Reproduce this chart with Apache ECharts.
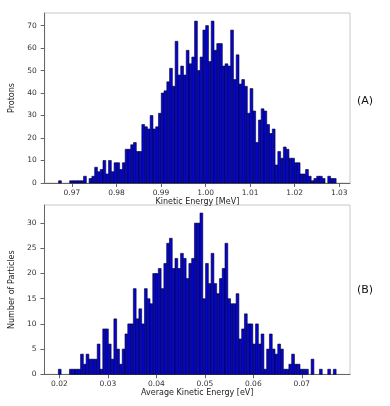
<!DOCTYPE html>
<html>
<head>
<meta charset="utf-8">
<script src="https://cdn.jsdelivr.net/npm/echarts@6/dist/echarts.min.js"></script>
<style>
html,body{margin:0;padding:0;background:#fff;}
#c{width:390px;height:406px;}
</style>
</head>
<body>
<div id="c"></div>
<script>
// ---- Data ----
// Panel A: 100-bin histogram of proton kinetic energy [MeV]
const topRange = [0.9670, 1.0293];
const topCounts = [1,0,0,0,1,1,1,1,1,3, 0,2,3,7,5,6,10,4,10,5,
  9,9,6,9,15,15,17,18,14,14, 26,25,24,30,24,25,31,40,41,45,
  51,43,63,48,52,48,59,53,56,72, 50,56,68,70,54,72,59,62,62,52,
  53,52,68,46,57,44,46,43,31,42, 32,18,28,33,32,26,22,24,8,14,
  11,16,15,11,11,9,9,4,4,6, 3,1,2,3,3,2,0,3,2,2];
const topXTicks = [0.97, 0.98, 0.99, 1.00, 1.01, 1.02, 1.03];
const topYTicks = [0, 10, 20, 30, 40, 50, 60, 70];

// Panel B: 100-bin histogram of average kinetic energy [eV]
const botRange = [0.01978, 0.07708];
const botCounts = [1,0,0,0,1,1,1,1,4,2, 4,3,3,3,6,1,9,9,6,3,
  11,5,2,5,8,10,10,17,11,13, 10,17,15,14,20,20,21,17,22,26,
  27,21,23,21,24,23,19,22,23,30, 30,32,15,22,18,24,18,16,19,21,
  26,15,14,14,16,7,9,12,10,10, 6,10,6,8,1,5,8,5,4,6,
  5,1,1,2,4,2,2,1,1,1, 0,3,0,0,1,0,0,1,0,1];
const botXTicks = [0.02, 0.03, 0.04, 0.05, 0.06, 0.07];
const botYTicks = [0, 5, 10, 15, 20, 25, 30];

const labels = ['(A)', '(B)'];

// ---- Build ----
function bins(range, counts) {
  const w = (range[1] - range[0]) / counts.length;
  return counts.map((c, i) => [range[0] + i * w, range[0] + (i + 1) * w, c]);
}
function pad(range) {
  const s = range[1] - range[0];
  return [range[0] - 0.05 * s, range[1] + 0.05 * s];
}
const tA = pad(topRange), tB = pad(botRange);

const tickFont = {fontFamily: 'DejaVu Sans', fontSize: 7.5, color: '#333'};
const nameFont = {fontFamily: 'DejaVu Sans', fontSize: 8, color: '#222'};

function xAx(idx, ext, ticks, name, gap) {
  return {
    type: 'value', gridIndex: idx, min: ext[0], max: ext[1],
    name: name, nameLocation: 'middle', nameGap: gap, nameTextStyle: nameFont,
    axisLine: {show: true, lineStyle: {color: '#666', width: 1}},
    axisTick: {show: true, length: 4, customValues: ticks, lineStyle: {color: '#666'}},
    axisLabel: Object.assign({customValues: ticks, margin: 6,
      formatter: v => v.toFixed(2)}, tickFont),
    splitLine: {show: false}
  };
}
function yAx(idx, max, ticks, name, gap) {
  return {
    type: 'value', gridIndex: idx, min: 0, max: max,
    name: name, nameLocation: 'middle', nameGap: gap, nameTextStyle: nameFont,
    axisLine: {show: true, lineStyle: {color: '#666', width: 1}},
    axisTick: {show: true, length: 4, customValues: ticks, lineStyle: {color: '#666'}},
    axisLabel: Object.assign({customValues: ticks, margin: 8}, tickFont),
    splitLine: {show: false}
  };
}
function renderBar(params, api) {
  const y = api.value(2);
  if (!y) return null;
  const p0 = api.coord([api.value(0), y]);
  const p1 = api.coord([api.value(1), 0]);
  return {
    type: 'rect',
    shape: {x: p0[0], y: p0[1], width: p1[0] - p0[0], height: p1[1] - p0[1]},
    style: {fill: '#0505d0', stroke: '#00002a', lineWidth: 0.6}
  };
}

const option = {
  animation: false,
  backgroundColor: '#fff',
  grid: [
    {left: 44.7, top: 13, right: 40, height: 170, show: true, borderColor: '#c8c8c8', borderWidth: 1},
    {left: 44.3, top: 205, right: 40, height: 169.3, show: true, borderColor: '#c8c8c8', borderWidth: 1}
  ],
  xAxis: [
    xAx(0, tA, topXTicks, 'Kinetic Energy [MeV]', 10),
    xAx(1, tB, botXTicks, 'Average Kinetic Energy [eV]', 14)
  ],
  yAxis: [
    yAx(0, Math.max(...topCounts) * 1.05, topYTicks, 'Protons', 17),
    yAx(1, Math.max(...botCounts) * 1.05, botYTicks, 'Number of Particles', 19)
  ],
  series: [
    {type: 'custom', xAxisIndex: 0, yAxisIndex: 0, renderItem: renderBar,
     encode: {x: [0, 1], y: 2}, data: bins(topRange, topCounts)},
    {type: 'custom', xAxisIndex: 1, yAxisIndex: 1, renderItem: renderBar,
     encode: {x: [0, 1], y: 2}, data: bins(botRange, botCounts)}
  ],
  graphic: [
    {type: 'text', left: 357, top: 96, style: {text: labels[0], font: '11px "DejaVu Sans"', fill: '#111'}},
    {type: 'text', left: 357, top: 285, style: {text: labels[1], font: '11px "DejaVu Sans"', fill: '#111'}}
  ]
};
const chart = echarts.init(document.getElementById('c'), null, {renderer: 'canvas'});
chart.setOption(option);
</script>
</body>
</html>
